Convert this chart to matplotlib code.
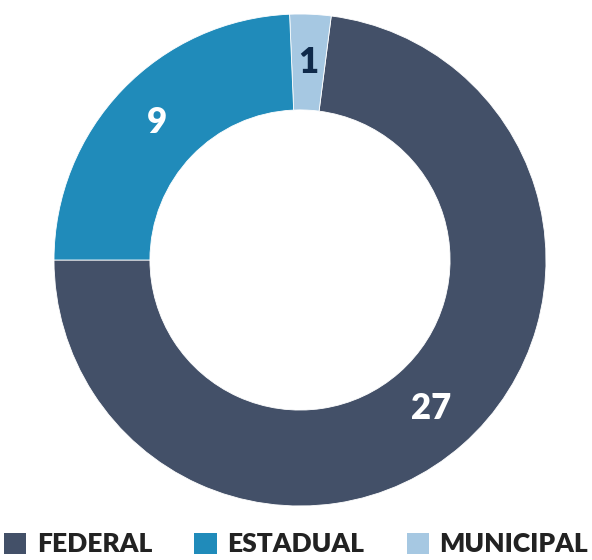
"""Donut chart: esfera de governo."""
import matplotlib

matplotlib.use("Agg")
import matplotlib.pyplot as plt
from matplotlib.patches import Patch
import numpy as np

# data
categories = ["FEDERAL", "ESTADUAL", "MUNICIPAL"]
values = [27, 9, 1]
colors = ["#435068", "#208BBA", "#A6C8E2"]
label_colors = ["white", "white", "#0F2A4A"]

# drawing order around the ring (counter-clockwise from the left)
draw_order = [0, 2, 1]

plt.rcParams["font.family"] = ["Lato", "DejaVu Sans"]

fig = plt.figure(figsize=(5.92, 5.6), dpi=100)
ax = fig.add_axes([54 / 592, 54 / 560, 492 / 592, 492 / 560])

wedges, _ = ax.pie(
    [values[i] for i in draw_order],
    colors=[colors[i] for i in draw_order],
    startangle=180,
    counterclock=True,
    radius=1.0,
    wedgeprops=dict(width=0.39, edgecolor="white", linewidth=0.6),
)

# value labels on the ring midline
mid_r = 1.0 - 0.39 / 2
for w, i in zip(wedges, draw_order):
    ang = np.deg2rad((w.theta1 + w.theta2) / 2)
    ax.text(mid_r * np.cos(ang), mid_r * np.sin(ang), str(values[i]),
            ha="center", va="center", fontsize=25, fontweight="heavy",
            color=label_colors[i])

ax.set_xlim(-1, 1)
ax.set_ylim(-1, 1)
ax.set_aspect("equal")
ax.axis("off")

handles = [Patch(facecolor=c, edgecolor="none") for c in colors]
fig.legend(
    handles, categories,
    loc="lower center", bbox_to_anchor=(0.5, -0.012),
    ncol=3, frameon=False,
    prop=dict(family="Lato", weight="heavy", size=19),
    labelcolor="#222222",
    handlelength=0.85, handleheight=0.85, handletextpad=0.4,
    columnspacing=1.6, borderaxespad=0,
)

fig.savefig("out.png", dpi=100)
